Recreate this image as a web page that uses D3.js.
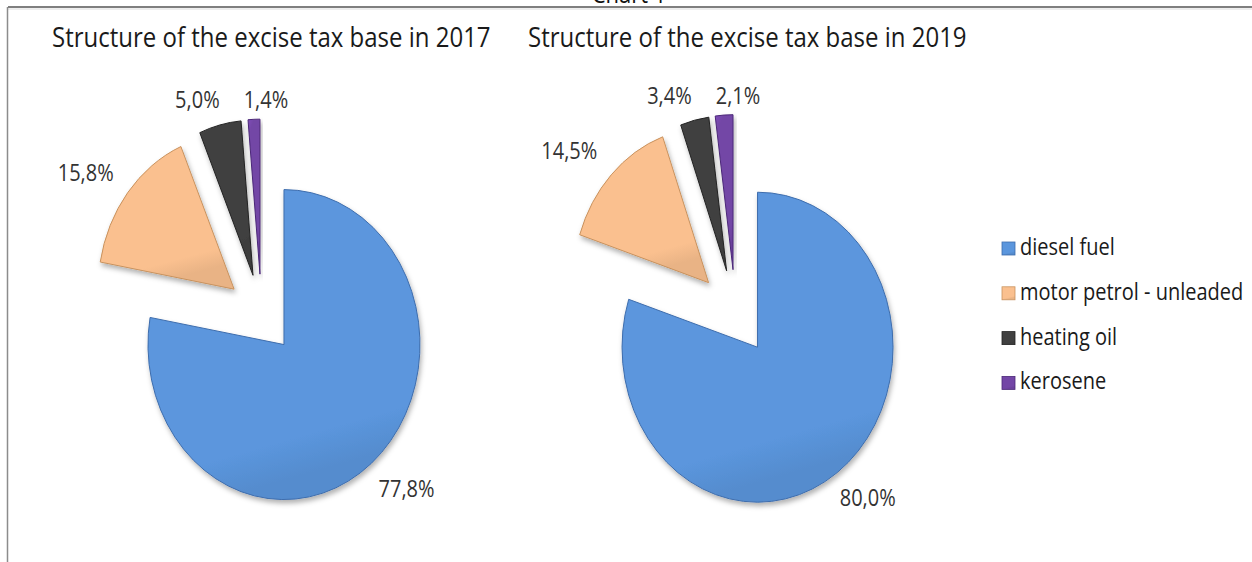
<!DOCTYPE html>
<html>
<head>
<meta charset="utf-8">
<script src="https://cdn.jsdelivr.net/npm/d3@7"></script>
<style>
  html, body { margin: 0; padding: 0; background: #ffffff; }
  svg { display: block; }
  text { font-family: "Open Sans", "DejaVu Sans", sans-serif; }
</style>
</head>
<body>
<svg id="chart" width="1252" height="562"></svg>
<script>
// ---- data ----
const categories = ["diesel fuel", "motor petrol - unleaded", "heating oil", "kerosene"];
const share2017 = [77.8, 15.8, 5.0, 1.4];
const share2019 = [80.0, 14.5, 3.4, 2.1];
const pieTitles = ["Structure of the excise tax base in 2017", "Structure of the excise tax base in 2019"];
const captionText = "Chart 1";

// ---- styling ----
const colors = ["#5B96DD", "#FAC08F", "#404040", "#7346A6"];
const edgeColors = ["#3E6DAD", "#C8925E", "#222222", "#4B2878"];
const W = 1252, H = 562;
const yStretch = 1.17;           // glyphs are drawn slightly taller than wide
const fmtPct = v => d3.format(".1f")(v).replace(".", ",") + "%";

const svg = d3.select("#chart");
const defs = svg.append("defs");

const shadow = defs.append("filter").attr("id", "shadow")
  .attr("x", "-20%").attr("y", "-20%").attr("width", "140%").attr("height", "140%");
shadow.append("feDropShadow").attr("dx", 1.5).attr("dy", 3).attr("stdDeviation", 2.5)
  .attr("flood-color", "#000").attr("flood-opacity", 0.3);

colors.forEach((c, i) => {
  const g = defs.append("linearGradient").attr("id", "grad" + i)
    .attr("x1", 0).attr("y1", 0).attr("x2", 0.25).attr("y2", 1);
  g.append("stop").attr("offset", "0%").attr("stop-color", d3.color(c).brighter(0.3));
  g.append("stop").attr("offset", "12%").attr("stop-color", c);
  g.append("stop").attr("offset", "88%").attr("stop-color", c);
  g.append("stop").attr("offset", "100%").attr("stop-color", d3.color(c).darker(0.2));
});

function addText(sel, x, y, str, size, anchor, fill) {
  return sel.append("text")
    .attr("transform", `translate(${x},${y}) scale(1,${yStretch})`)
    .attr("text-anchor", anchor)
    .style("font-size", size + "px")
    .attr("fill", fill)
    .text(str);
}

// ---- frame ----
svg.append("line").attr("x1", 8).attr("x2", W).attr("y1", 7).attr("y2", 7)
  .attr("stroke", "#7f7f7f").attr("stroke-width", 2);
svg.append("line").attr("x1", 8).attr("x2", W).attr("y1", 9).attr("y2", 9)
  .attr("stroke", "#dcdcdc").attr("stroke-width", 1);
svg.append("line").attr("x1", 7.5).attr("x2", 7.5).attr("y1", 7).attr("y2", H)
  .attr("stroke", "#8c8c8c").attr("stroke-width", 1.5);

addText(svg, 629, 2.5, captionText, 22, "middle", "#111");

// ---- pies ----
const layouts = [
  { values: share2017, title: pieTitles[0], titleX: 52,  cx: 261.5, cy: 314,   rx: 136,   ry: 155, explode: 35 },
  { values: share2019, title: pieTitles[1], titleX: 528, cx: 735.5, cy: 312.5, rx: 135.5, ry: 155, explode: 37.5 }
];

const pie = d3.pie().sort(null).value(d => d.value)
  .startAngle(0).endAngle(2 * Math.PI);

layouts.forEach(L => {
  addText(svg, L.titleX, 47, L.title, 24, "start", "#1a1a1a");

  const rows = categories.map((c, i) => ({ cat: c, value: L.values[i], i }));
  const arcs = pie(rows);
  const arc = d3.arc().innerRadius(0).outerRadius(L.rx);
  const s = L.ry / L.rx;
  const gPie = svg.append("g");
  const labels = [];

  arcs.forEach(d => {
    const mid = (d.startAngle + d.endAngle) / 2;
    const ux = Math.sin(mid), uy = -Math.cos(mid);
    const ox = L.cx + ux * L.explode;
    const oy = L.cy + uy * L.explode * s;

    gPie.append("g")
      .attr("transform", `translate(${ox},${oy}) scale(1,${s})`)
      .attr("filter", "url(#shadow)")
      .append("path")
      .attr("d", arc(d))
      .attr("fill", `url(#grad${d.data.i})`)
      .attr("stroke", edgeColors[d.data.i])
      .attr("stroke-width", 1)
      .attr("vector-effect", "non-scaling-stroke");

    // label anchored outside the slice's outer edge
    const t = addText(svg, 0, 0, fmtPct(d.data.value), 20, "middle", "#333");
    const w = t.node().getComputedTextLength();
    const h = 22, gap = 14;
    const px = ox + ux * L.rx, py = oy + uy * L.ry;
    const m = Math.max(Math.abs(ux), Math.abs(uy));
    labels.push({ node: t, w, h,
      x: px + (ux / m) * (w / 2 + gap),
      y: py + (uy / m) * (h / 2 + gap) });
  });

  // spread out labels that collide
  labels.sort((a, b) => a.x - b.x);
  for (let k = 0; k < labels.length - 1; k++) {
    const a = labels[k], b = labels[k + 1];
    if (Math.abs(b.x - a.x) < (a.w + b.w) / 2 + 4 && Math.abs(b.y - a.y) < a.h) {
      const mean = (a.x + b.x) / 2;
      const sep = (a.w + b.w) / 2 + 24;
      a.x = mean - sep / 2; b.x = mean + sep / 2;
      a.y = b.y = Math.max(a.y, b.y);
    }
  }
  labels.forEach(l => {
    l.node.attr("transform", `translate(${l.x},${l.y + 8.4}) scale(1,${yStretch})`);
  });
});

// ---- legend ----
const legend = svg.append("g");
categories.forEach((c, i) => {
  const base = 255 + i * 44.8;
  legend.append("rect")
    .attr("x", 1002).attr("y", base - 13).attr("width", 13).attr("height", 13)
    .attr("fill", `url(#grad${i})`)
    .attr("stroke", edgeColors[i]).attr("stroke-width", 0.8);
  addText(legend, 1020, base, c, 20, "start", "#1a1a1a");
});
</script>
</body>
</html>
